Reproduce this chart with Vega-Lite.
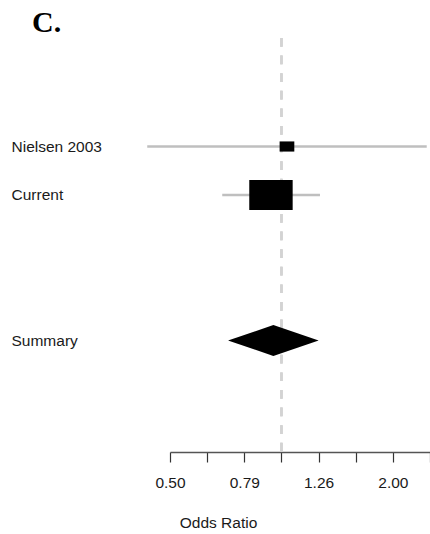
{
  "$schema": "https://vega.github.io/schema/vega-lite/v6.json",
  "width": 260,
  "height": 414,
  "autosize": "none",
  "padding": {"left": 170, "top": 38, "right": 0, "bottom": 82},
  "background": "white",
  "config": {"view": {"stroke": null}},
  "title": {
    "text": "C.",
    "anchor": "start",
    "frame": "group",
    "font": "Liberation Serif",
    "fontSize": 30,
    "fontWeight": "bold",
    "color": "black",
    "baseline": "alphabetic",
    "dx": -138,
    "dy": 31.5,
    "offset": 6.5
  },
  "data": {
    "values": [
      {"study": "Nielsen 2003", "row": 1, "type": "study", "est": 1.035, "lower": 0.434, "upper": 2.469, "weight": 10.3},
      {"study": "Current", "row": 2, "type": "study", "est": 0.937, "lower": 0.692, "upper": 1.271, "weight": 89.7},
      {"study": "Summary", "row": 5, "type": "summary", "est": 0.951, "lower": 0.716, "upper": 1.258}
    ]
  },
  "layer": [
    {
      "mark": {"type": "rule", "color": "#d3d3d3", "strokeWidth": 2.3, "strokeDash": [8.7, 8.9]},
      "encoding": {
        "x": {
          "datum": 1,
          "type": "quantitative",
          "scale": {"type": "log", "domain": [0.5, 2.5198], "nice": false, "zero": false},
          "axis": {
            "values": [0.5, 0.63, 0.7937, 1, 1.2599, 1.5874, 2, 2.5198],
            "labelExpr": "datum.value == 0.5 || datum.value == 0.7937 || datum.value == 1.2599 || datum.value == 2 ? format(datum.value, '.2f') : ''",
            "grid": false,
            "domain": true,
            "domainColor": "#555555",
            "domainWidth": 1.5,
            "ticks": true,
            "tickSize": 10,
            "tickColor": "#333333",
            "tickWidth": 1.2,
            "labelFont": "Liberation Sans",
            "labelFontSize": 15.5,
            "labelColor": "#1a1a1a",
            "labelBaseline": "alphabetic",
            "labelPadding": 25,
            "labelFlush": false,
            "labelOverlap": false,
            "labelBound": false,
            "title": "Odds Ratio",
            "titleFont": "Liberation Sans",
            "titleFontSize": 15.5,
            "titleFontWeight": "normal",
            "titleColor": "#1a1a1a",
            "titleX": 48,
            "titleY": 75,
            "titleAlign": "center",
            "titleBaseline": "alphabetic"
          }
        }
      }
    },
    {
      "transform": [{"filter": "datum.type == 'study'"}],
      "mark": {"type": "rule", "color": "#bfbfbf", "strokeWidth": 2.5},
      "encoding": {
        "x": {"field": "lower", "type": "quantitative"},
        "x2": {"field": "upper"},
        "y": {
          "field": "row",
          "type": "quantitative",
          "scale": {"domain": [-1.2371, 7.299], "reverse": true, "nice": false, "zero": false},
          "axis": {
            "values": [1, 2, 5],
            "labelExpr": "datum.value == 1 ? 'Nielsen 2003' : datum.value == 2 ? 'Current' : 'Summary'",
            "grid": false,
            "domain": false,
            "ticks": false,
            "tickSize": 0,
            "labelAlign": "left",
            "labelBaseline": "middle",
            "labelPadding": 159,
            "labelFont": "Liberation Sans",
            "labelFontSize": 15.5,
            "labelColor": "#1a1a1a",
            "labelLimit": 300,
            "labelOverlap": false,
            "title": null
          }
        }
      }
    },
    {
      "transform": [{"filter": "datum.type == 'study'"}],
      "mark": {"type": "point", "shape": "M-1,-0.69L1,-0.69L1,0.69L-1,0.69Z", "filled": true, "color": "black", "opacity": 1, "strokeWidth": 0},
      "encoding": {
        "x": {"field": "est", "type": "quantitative"},
        "y": {"field": "row", "type": "quantitative"},
        "size": {"field": "weight", "type": "quantitative", "scale": {"type": "linear", "domain": [0, 89.7], "range": [0, 1884], "zero": true}, "legend": null}
      }
    },
    {
      "transform": [{"filter": "datum.type == 'summary'"}],
      "mark": {"type": "point", "shape": "M-1,0L0,-0.342L1,0L0,0.342Z", "size": 8208, "filled": true, "color": "black", "opacity": 1, "strokeWidth": 0},
      "encoding": {
        "x": {"field": "est", "type": "quantitative"},
        "y": {"field": "row", "type": "quantitative"}
      }
    }
  ]
}
